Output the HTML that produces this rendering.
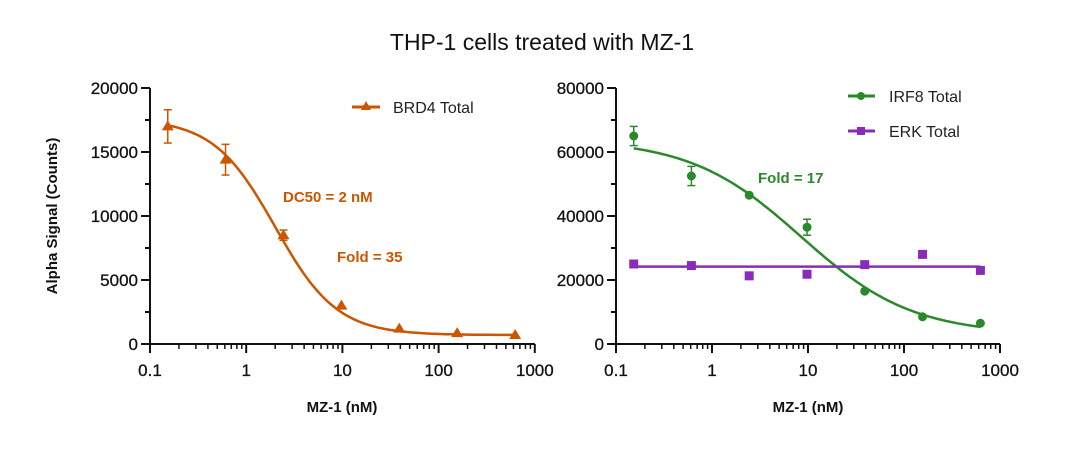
<!DOCTYPE html>
<html><head><meta charset="utf-8"><style>
body{margin:0;background:#fff}
svg{font-family:"Liberation Sans",sans-serif}
</style></head><body>
<svg id="s" width="1080" height="454" xmlns="http://www.w3.org/2000/svg">
<rect width="1080" height="454" fill="#fff"/>
<text x="542" y="50" font-size="23" text-anchor="middle" fill="#111">THP-1 cells treated with MZ-1</text>
<text transform="translate(57,216) rotate(-90)" font-size="15" font-weight="bold" text-anchor="middle" fill="#111">Alpha Signal (Counts)</text>
<text x="342" y="412" font-size="15" font-weight="bold" text-anchor="middle" fill="#111">MZ-1 (nM)</text>
<text x="808" y="412" font-size="15" font-weight="bold" text-anchor="middle" fill="#111">MZ-1 (nM)</text>
<g id="g"></g>
<text x="283" y="202" font-size="15" font-weight="bold" fill="#cc5500">DC50 = 2 nM</text>
<text x="337" y="262" font-size="15" font-weight="bold" fill="#cc5500">Fold = 35</text>
<text x="758" y="183" font-size="15" font-weight="bold" fill="#2a8a2a">Fold = 17</text>
<line x1="352" y1="107" x2="380" y2="107" stroke="#cc5500" stroke-width="3"/>
<polygon points="366,101 371,110 361,110" fill="#cc5500"/>
<text x="393" y="113" font-size="16" fill="#222">BRD4 Total</text>
<line x1="848" y1="96" x2="875" y2="96" stroke="#2a8a2a" stroke-width="3"/>
<circle cx="861" cy="96" r="4" fill="#2a8a2a"/>
<text x="889" y="102" font-size="16" fill="#222">IRF8 Total</text>
<line x1="848" y1="131" x2="875" y2="131" stroke="#8a2bb8" stroke-width="3"/>
<rect x="857" y="127" width="8" height="8" fill="#8a2bb8"/>
<text x="889" y="137" font-size="16" fill="#222">ERK Total</text>
</svg>
<script>
var g=document.getElementById('g'),h='';
var OR='#cc5500',GR='#2a8a2a',PU='#8a2bb8';
function axes(x0,dec,ymaxv,ystep,yminor){
 var y0=344,yt=88;
 h+='<line x1="'+x0+'" y1="'+y0+'" x2="'+(x0+4*dec)+'" y2="'+y0+'" stroke="#111" stroke-width="2"/>';
 h+='<line x1="'+x0+'" y1="'+yt+'" x2="'+x0+'" y2="'+y0+'" stroke="#111" stroke-width="2"/>';
 var labs=['0.1','1','10','100','1000'];
 for(var d=0;d<5;d++){var x=x0+d*dec;
  h+='<line x1="'+x+'" y1="'+y0+'" x2="'+x+'" y2="'+(y0+9)+'" stroke="#111" stroke-width="2"/>';
  h+='<text x="'+x+'" y="'+(y0+32)+'" font-size="17" text-anchor="middle" fill="#111" stroke="#111" stroke-width="0.3">'+labs[d]+'</text>';
  if(d<4)for(var k=2;k<10;k++){var xm=x+Math.log10(k)*dec;h+='<line x1="'+xm+'" y1="'+y0+'" x2="'+xm+'" y2="'+(y0+5)+'" stroke="#111" stroke-width="1.5"/>';}}
 for(var v=0;v<=ymaxv;v+=yminor){var y=y0-(v/ymaxv)*(y0-yt);var maj=v%ystep==0;
  h+='<line x1="'+(x0-(maj?9:5))+'" y1="'+y+'" x2="'+x0+'" y2="'+y+'" stroke="#111" stroke-width="2"/>';
  if(maj)h+='<text x="'+(x0-12)+'" y="'+(y+6)+'" font-size="17" text-anchor="end" fill="#111" stroke="#111" stroke-width="0.3">'+v+'</text>';}
}
axes(150,96.2,20000,5000,2500);axes(616,96,80000,20000,10000);
function X(x0,dec,c){return x0+(Math.log10(c)+1)*dec}
function Y(v,m){return 344-v/m*256}
var conc=[0.153,0.61,2.44,9.77,39,156,625];
function curve(x0,dec,m,f,col){var p='';for(var i=0;i<=120;i++){var c=Math.pow(10,Math.log10(0.153)+i/120*(Math.log10(625)-Math.log10(0.153)));p+=(i?'L':'M')+X(x0,dec,c).toFixed(1)+','+Y(f(c),m).toFixed(1);}
 h+='<path d="'+p+'" fill="none" stroke="'+col+'" stroke-width="2.5"/>';}
curve(150,96.2,20000,function(c){return 700+16900/(1+Math.pow(c/2,1.35))},OR);
curve(616,96,80000,function(c){return 3000+61000/(1+Math.pow(c/8.5,0.75))},GR);
curve(616,96,80000,function(c){return 24200},PU);
function err(x,y1,y2,col){h+='<line x1="'+x+'" y1="'+y1+'" x2="'+x+'" y2="'+y2+'" stroke="'+col+'" stroke-width="1.5"/><line x1="'+(x-4)+'" y1="'+y1+'" x2="'+(x+4)+'" y2="'+y1+'" stroke="'+col+'" stroke-width="1.5"/><line x1="'+(x-4)+'" y1="'+y2+'" x2="'+(x+4)+'" y2="'+y2+'" stroke="'+col+'" stroke-width="1.5"/>';}
var b=[17000,14400,8500,3000,1200,850,700],be=[1300,1200,400,0,0,0,0];
b.forEach(function(v,i){var x=X(150,96.2,conc[i]),y=Y(v,20000);if(be[i])err(x,Y(v+be[i],20000),Y(v-be[i],20000),OR);
 h+='<polygon points="'+x+','+(y-6)+' '+(x+6)+','+(y+4)+' '+(x-6)+','+(y+4)+'" fill="'+OR+'"/>';});
var r=[65000,52500,46500,36500,16500,8500,6500],re=[3000,3000,0,2500,0,0,0];
r.forEach(function(v,i){var x=X(616,96,conc[i]),y=Y(v,80000);if(re[i])err(x,Y(v+re[i],80000),Y(v-re[i],80000),GR);
 h+='<circle cx="'+x+'" cy="'+y+'" r="4.5" fill="'+GR+'"/>';});
var e=[25000,24500,21300,21800,24800,28000,23000];
e.forEach(function(v,i){var x=X(616,96,conc[i]),y=Y(v,80000);h+='<rect x="'+(x-4.5)+'" y="'+(y-4.5)+'" width="9" height="9" fill="'+PU+'"/>';});
g.innerHTML=h;
</script>
</body></html>
